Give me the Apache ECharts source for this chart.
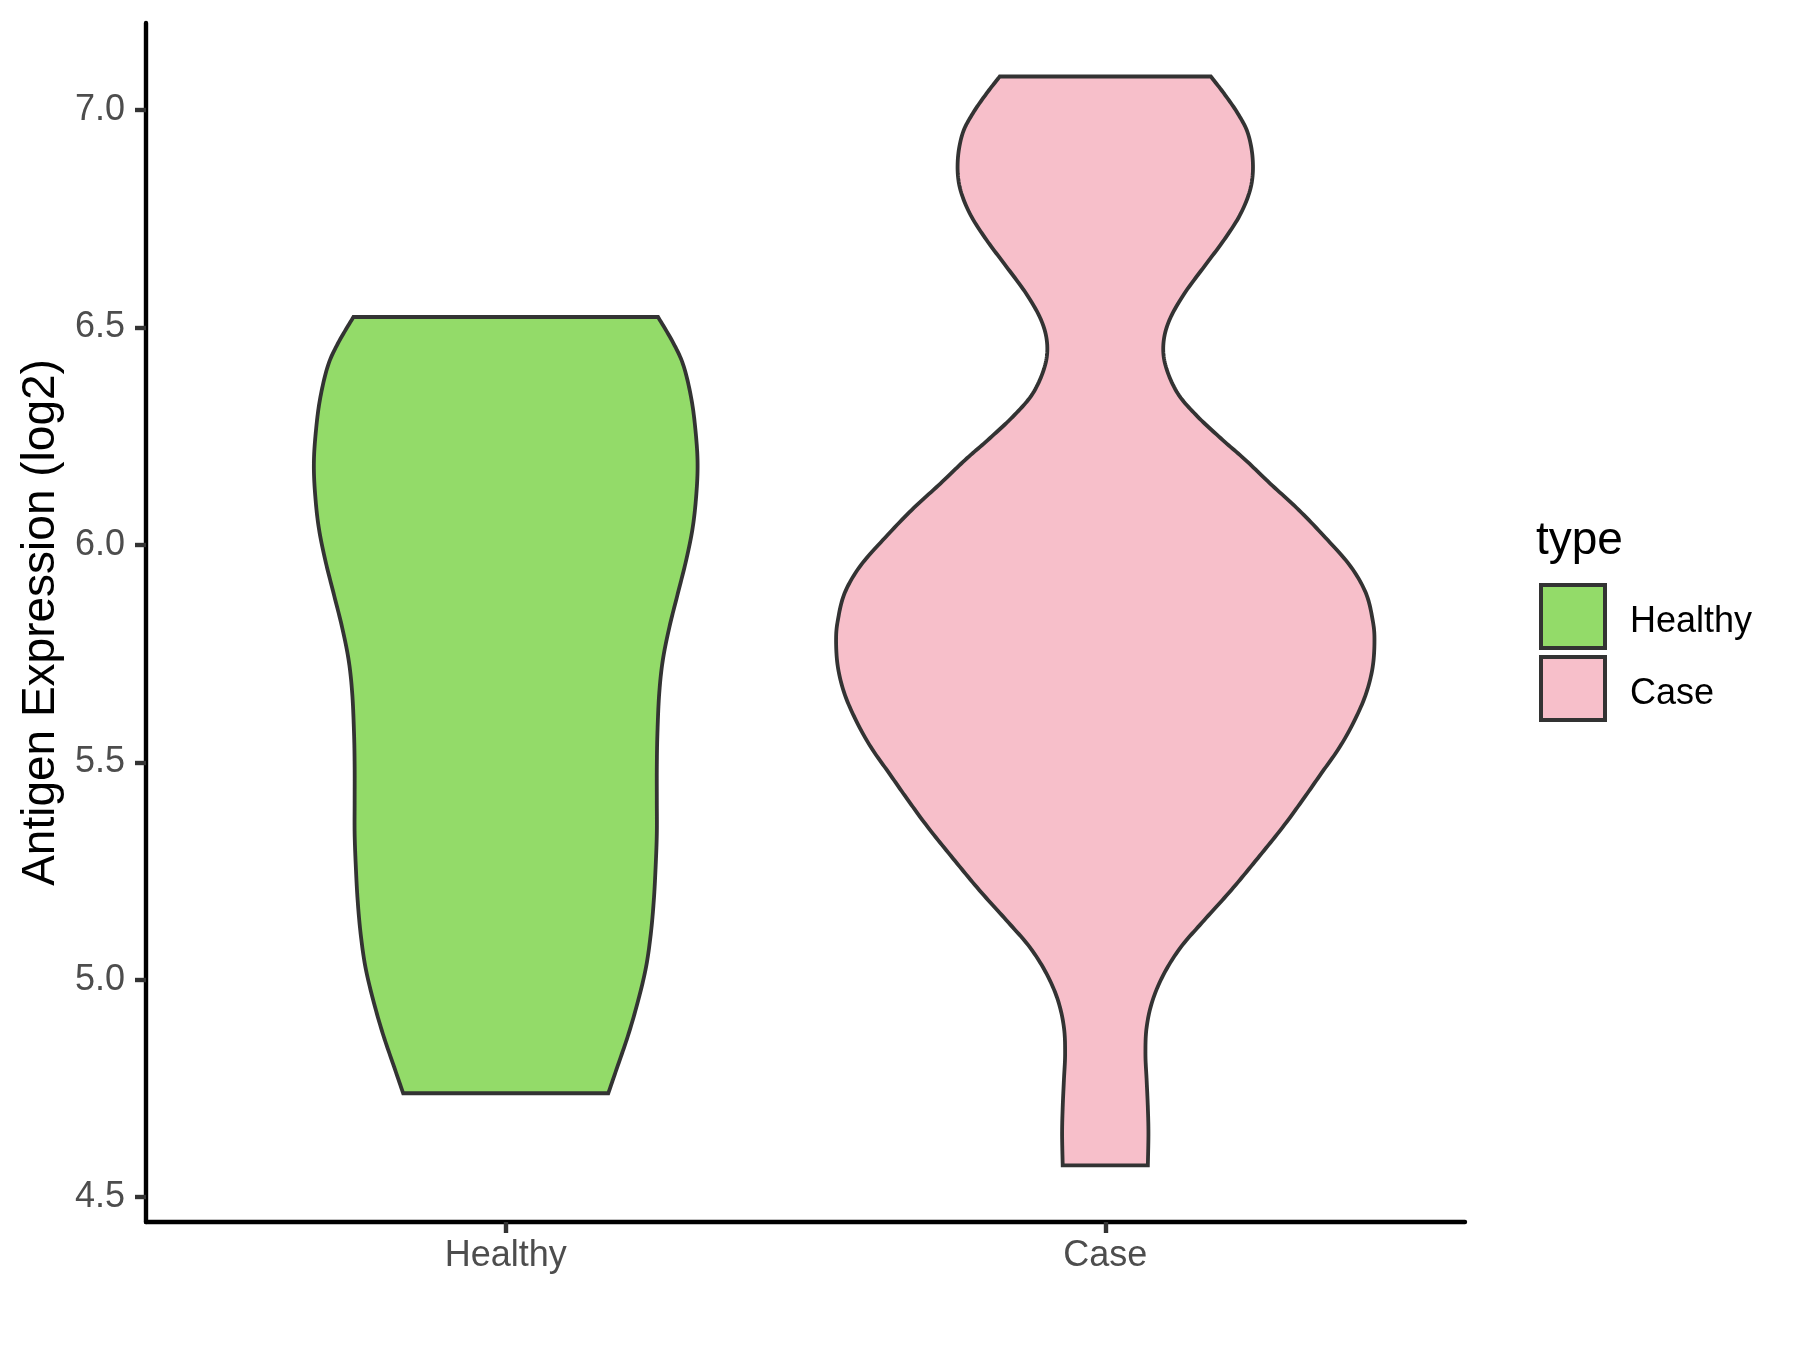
<!DOCTYPE html>
<html>
<head>
<meta charset="utf-8">
<title>Antigen Expression (log2)</title>
<script src="https://cdn.jsdelivr.net/npm/echarts@6/dist/echarts.min.js"></script>
<style>
  html, body { margin: 0; padding: 0; background: #ffffff; }
  #chart { width: 1800px; height: 1350px; }
</style>
</head>
<body>
<div id="chart"></div>
<script>
// Groups shown on the x axis, in order
const categories = ['Healthy', 'Case'];
const fillColors = ['#93DB69', '#F7BFCA'];

// Tick labels on the y axis
const yTicks = [4.5, 5.0, 5.5, 6.0, 6.5, 7.0];

// Violin outlines: expression level (log2) and half-width (in group-axis units)
const healthyLevels = [6.524, 6.463, 6.410, 6.333, 6.256, 6.187, 6.118, 6.041, 5.965, 5.888,
  5.811, 5.735, 5.658, 5.566, 5.489, 5.413, 5.336, 5.259, 5.183, 5.106,
  5.029, 4.953, 4.876, 4.799, 4.739];
const healthyHalfWidth = [0.254, 0.280, 0.297, 0.310, 0.317, 0.320, 0.318, 0.312, 0.301, 0.287,
  0.273, 0.262, 0.256, 0.253, 0.252, 0.252, 0.252, 0.250, 0.247, 0.242,
  0.234, 0.221, 0.205, 0.186, 0.171];

const caseLevels = [7.077, 7.038, 6.992, 6.946, 6.885, 6.824, 6.762, 6.701, 6.640, 6.578,
  6.517, 6.463, 6.410, 6.348, 6.295, 6.241, 6.195, 6.141, 6.080, 6.011,
  5.949, 5.888, 5.827, 5.781, 5.719, 5.658, 5.597, 5.535, 5.474, 5.413,
  5.351, 5.279, 5.206, 5.137, 5.075, 5.014, 4.953, 4.891, 4.830, 4.769,
  4.707, 4.646, 4.573];
const caseHalfWidth = [0.176, 0.198, 0.221, 0.238, 0.246, 0.243, 0.226, 0.198, 0.165, 0.132,
  0.107, 0.097, 0.101, 0.121, 0.154, 0.196, 0.234, 0.275, 0.323, 0.371,
  0.410, 0.435, 0.446, 0.449, 0.446, 0.435, 0.416, 0.391, 0.360, 0.329,
  0.296, 0.254, 0.210, 0.165, 0.126, 0.098, 0.079, 0.069, 0.067, 0.069,
  0.071, 0.072, 0.071];

const profiles = [
  { levels: healthyLevels, halfWidth: healthyHalfWidth },
  { levels: caseLevels, halfWidth: caseHalfWidth }
];

const FONT = '"Liberation Sans", Arial, Helvetica, sans-serif';
const OUTLINE = '#333333';

// Smooth a pixel polyline with Catmull-Rom segments for drawing
function smoothLine(pts, steps) {
  const out = [];
  const n = pts.length;
  for (let i = 0; i < n - 1; i++) {
    const p0 = pts[Math.max(i - 1, 0)];
    const p1 = pts[i];
    const p2 = pts[i + 1];
    const p3 = pts[Math.min(i + 2, n - 1)];
    for (let s = 0; s < steps; s++) {
      const t = s / steps, t2 = t * t, t3 = t2 * t;
      const f = (a, b, c, d) => 0.5 * ((2 * b) + (-a + c) * t +
        (2 * a - 5 * b + 4 * c - d) * t2 + (-a + 3 * b - 3 * c + d) * t3);
      out.push([f(p0[0], p1[0], p2[0], p3[0]), f(p0[1], p1[1], p2[1], p3[1])]);
    }
  }
  out.push(pts[n - 1]);
  return out;
}

function violinRenderer(groupIndex) {
  return function (params, api) {
    const pos = api.value(0);
    const prof = profiles[groupIndex];
    const left = prof.levels.map((v, i) => api.coord([pos - prof.halfWidth[i], v]));
    const right = prof.levels.map((v, i) => api.coord([pos + prof.halfWidth[i], v]));
    const leftSmooth = smoothLine(left, 12);                     // top -> bottom
    const rightSmooth = smoothLine(right.slice().reverse(), 12); // bottom -> top
    const points = leftSmooth.concat(rightSmooth);
    return {
      type: 'polygon',
      shape: { points: points },
      style: {
        fill: fillColors[groupIndex],
        stroke: OUTLINE,
        lineWidth: 3.8,
        lineJoin: 'miter'
      }
    };
  };
}

const chart = echarts.init(document.getElementById('chart'), null, { renderer: 'canvas' });

const option = {
  backgroundColor: '#ffffff',
  animation: false,
  textStyle: { fontFamily: FONT },
  grid: { left: 146, right: 335, top: 23, bottom: 128, containLabel: false },
  xAxis: {
    type: 'value',
    min: 0.4,
    max: 2.6,
    splitLine: { show: false },
    axisLine: { show: true, onZero: false, lineStyle: { color: '#000000', width: 4.4 } },
    axisTick: {
      show: true, length: 11, inside: false,
      customValues: [1, 2],
      lineStyle: { color: OUTLINE, width: 4.4 }
    },
    axisLabel: {
      show: true, margin: 16,
      customValues: [1, 2],
      formatter: v => categories[Math.round(v) - 1],
      fontSize: 36, color: '#4D4D4D', fontFamily: FONT
    }
  },
  yAxis: {
    type: 'value',
    min: 4.443,
    max: 7.2,
    name: 'Antigen Expression (log2)',
    nameLocation: 'middle',
    nameGap: 80,
    nameTextStyle: { fontSize: 46, color: '#000000', fontFamily: FONT },
    splitLine: { show: false },
    axisLine: { show: true, onZero: false, lineStyle: { color: '#000000', width: 4.4 } },
    axisTick: {
      show: true, length: 11, inside: false,
      customValues: yTicks,
      lineStyle: { color: OUTLINE, width: 4.4 }
    },
    axisLabel: {
      show: true, margin: 21,
      customValues: yTicks,
      formatter: v => v.toFixed(1),
      fontSize: 36, color: '#4D4D4D', fontFamily: FONT
    }
  },
  legend: {
    orient: 'vertical',
    left: 1539,
    top: 583,
    padding: 0,
    itemWidth: 64,
    itemHeight: 63,
    itemGap: 5,
    icon: 'rect',
    selectedMode: false,
    data: categories,
    itemStyle: { borderColor: OUTLINE, borderWidth: 4 },
    formatter: name => '{lbl|' + name + '}',
    textStyle: {
      fontSize: 36, color: '#000000', fontFamily: FONT,
      rich: {
        lbl: { fontSize: 36, color: '#000000', fontFamily: FONT, padding: [12, 0, 0, 20] }
      }
    }
  },
  graphic: [
    {
      type: 'text',
      left: 1536,
      top: 518,
      style: { text: 'type', fontSize: 46, fill: '#000000', fontFamily: FONT }
    }
  ],
  series: categories.map((name, gi) => ({
    name: name,
    type: 'custom',
    coordinateSystem: 'cartesian2d',
    itemStyle: { color: fillColors[gi], borderColor: OUTLINE, borderWidth: 4 },
    renderItem: violinRenderer(gi),
    data: [[gi + 1]],
    encode: { x: 0 },
    clip: false
  }))
};

chart.setOption(option);
</script>
</body>
</html>
